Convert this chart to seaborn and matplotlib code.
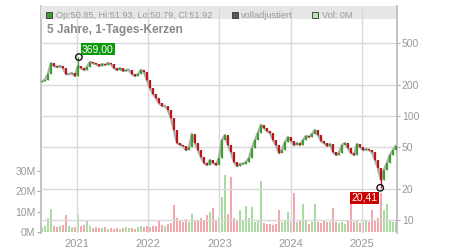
import numpy as np
import pandas as pd
import matplotlib
matplotlib.use("Agg")
import matplotlib.pyplot as plt
import matplotlib.ticker as mticker
from matplotlib.patches import Rectangle
import seaborn as sns

# ---------------- data ----------------
closes = [217, 222, 253, 323, 303, 296, 303, 289, 253, 253, 259, 242,
          303, 289, 277, 296, 331, 323, 316, 303, 316, 310, 323, 316,
          289, 277, 289, 271, 277, 277, 253, 242, 253, 277, 265, 222,
          186, 163, 149, 133, 125, 125, 114, 96, 73, 55, 53, 51.5,
          47, 50, 67, 55, 47, 40.4, 35.4, 33.8, 37.8, 35.4, 33.8, 39.5,
          58.8, 65.7, 52.6, 45.1, 36.1, 33.1, 34.6, 34.6, 36.1, 39.5, 49.2, 58.8,
          68.7, 82, 76.7, 71.8, 68.7, 58.8, 52.6, 44.1, 47.1, 56.2, 62.8, 57.5,
          52.6, 55, 52.6, 58.8, 64.2, 62.8, 67.2, 73.4, 65.7, 57.5, 55, 51.5,
          53.8, 45.1, 42.2, 44.1, 52.6, 55, 49.2, 44.1, 42.2, 53.8, 50.3, 47.1,
          48.1, 47.1, 45.1, 37.8, 31.6, 24.2, 30.3, 35.4, 42.2, 47.1, 51.92]
volumes_m = [2.5, 3, 7, 11.5, 3, 2.5, 3, 3.5, 8.5, 3, 2.5, 2.5,
             8.5, 3, 3.5, 6, 3, 2, 2.5, 2, 2, 2.5, 1.5, 2,
             1.5, 2, 1.5, 2, 2.5, 2, 2, 1.5, 2.5, 3, 2.5, 3,
             2.5, 3, 3, 6, 3.5, 3, 4, 4.5, 13.5, 7, 6, 5,
             6.5, 5, 9, 5.5, 6, 7, 6, 8.5, 10, 12, 6, 7,
             17, 28, 9, 27, 7, 6, 11, 6, 13, 7, 12.5, 5,
             6, 25, 4.5, 4, 4, 3.5, 4, 11, 5, 6, 10, 5,
             19, 5, 6, 14, 5.5, 4, 5, 14, 5, 4.5, 6, 5,
             5, 12, 5, 4.5, 5, 4, 6, 17, 5, 6, 4.5, 5,
             6, 5, 11, 6, 7, 19, 11, 14, 6, 5, 5]
first_open = 212.0
start_date, end_date = "2020-07-06", "2025-06-24"
view_start, view_end = "2020-07-01", "2025-06-29"
hi_date, hi_value, hi_label = "2021-01-11", 369.00, "369,00"
lo_date, lo_value, lo_label = "2025-04-04", 20.41, "20,41"
header_ohlc = "Op:50.85, Hi:51.93, Lo:50.79, Cl:51.92"
header_adj = "volladjustiert"
header_vol = "Vol: 0M"
title = "5 Jahre, 1-Tages-Kerzen"
price_ticks = [10, 20, 50, 100, 200, 500]
vol_ticks = [0, 10, 20, 30]
vol_labels = ["0M", "10M", "20M", "30M"]
year_ticks = ["2021-01-01", "2022-01-01", "2023-01-01", "2024-01-01", "2025-01-01"]
year_labels = ["2021", "2022", "2023", "2024", "2025"]

# ---------------- build frame ----------------
dates = pd.date_range(start_date, end_date, periods=len(closes))
df = pd.DataFrame({"date": dates, "close": closes, "volume": volumes_m})
df["open"] = [first_open] + closes[:-1]
df["up"] = df["close"] >= df["open"]
df["lo"] = df[["open", "close"]].min(axis=1)
df["hi"] = df[["open", "close"]].max(axis=1)
ih = (df["date"] - pd.Timestamp(hi_date)).abs().idxmin()
il = (df["date"] - pd.Timestamp(lo_date)).abs().idxmin()
df.loc[ih, "hi"] = hi_value
df.loc[il, "lo"] = lo_value

GREEN, RED = "#3aa22a", "#c01418"
VGREEN, VRED = "#a9dba2", "#f2a6ae"
GRID = "#d9d9d9"
TXT = "#999999"

sns.set_theme(style="white")
plt.rcParams["font.family"] = ["Liberation Sans", "DejaVu Sans"]

W, H = 450, 250
L, R, T, B = 41, 397, 6, 233
fig = plt.figure(figsize=(W / 100, H / 100), dpi=100)
axv = fig.add_axes([L / W, 1 - B / H, (R - L) / W, (B - T) / H])
axp = axv.twinx()

# ---------------- volume ----------------
bar_w = pd.Timedelta(days=13.5)
axv.bar(df["date"], df["volume"], width=bar_w,
        color=np.where(df["up"], VGREEN, VRED), linewidth=0, zorder=2)
axv.set_ylim(-0.5, 111.3)
axv.set_yticks(vol_ticks)
axv.set_yticklabels(vol_labels)
axv.set_xlim(pd.Timestamp(view_start), pd.Timestamp(view_end))
axv.set_xticks(pd.to_datetime(year_ticks))
axv.set_xticklabels(year_labels)
axv.tick_params(axis="y", which="both", left=True, right=False, length=3,
                width=0.8, color="#aaaaaa", labelsize=7.5, labelcolor=TXT, pad=1)
axv.tick_params(axis="x", length=0, labelsize=8, labelcolor=TXT, pad=4.5)
axv.set_xlabel("")
axv.set_ylabel("")

# ---------------- price ----------------
axp.set_yscale("log")
axp.set_ylim(7.50, 1144)
axp.set_xlim(pd.Timestamp(view_start), pd.Timestamp(view_end))

# header band and grid
axp.add_patch(Rectangle((0, 1 - 13 / (B - T)), 1, 13 / (B - T), transform=axp.transAxes,
                        facecolor="#e6e6e6", edgecolor="none", zorder=0.5))
for p in price_ticks:
    axp.axhline(p, color=GRID, lw=1, zorder=1)
for d in year_ticks:
    axp.axvline(pd.Timestamp(d), color=GRID, lw=1, zorder=1)

sns.lineplot(data=df, x="date", y="close", ax=axp, color="#aaaaaa", lw=1.8, zorder=2)

axp.vlines(df["date"], df["lo"], df["hi"], colors=np.where(df["up"], GREEN, RED),
           lw=0.9, zorder=3)
body_h = (df["close"] - df["open"]).where((df["close"] - df["open"]).abs() > 0.01, 0.5)
axp.bar(df["date"], body_h, bottom=df["open"], width=pd.Timedelta(days=12),
        color=np.where(df["up"], GREEN, RED), linewidth=0, zorder=4)

axp.set_yticks(price_ticks)
axp.set_yticklabels([str(p) for p in price_ticks])
axp.yaxis.set_minor_locator(mticker.NullLocator())
axp.tick_params(axis="y", which="both", right=True, left=False, direction="inout",
                length=5, width=0.8, color="#aaaaaa", labelsize=7.5, labelcolor=TXT, pad=1)
axp.set_ylabel("")
axp.set_xlabel("")

# extremes
sns.scatterplot(x=[pd.Timestamp(hi_date), pd.Timestamp(lo_date)], y=[hi_value, lo_value],
                ax=axp, s=22, facecolor="none", edgecolor="#111111", linewidth=1, zorder=6)
axp.annotate(hi_label, xy=(pd.Timestamp(hi_date), hi_value), xytext=(19, 8),
             textcoords="offset pixels", ha="center", va="center", color="white",
             fontsize=7.5, zorder=7,
             bbox=dict(boxstyle="square,pad=0.12", fc="#0c9a0c", ec="none"))
axp.annotate(lo_label, xy=(pd.Timestamp(lo_date), lo_value), xytext=(-16, -10),
             textcoords="offset pixels", ha="center", va="center", color="white",
             fontsize=7.5, zorder=7,
             bbox=dict(boxstyle="square,pad=0.12", fc="#cc0000", ec="none"))

# spines
for ax in (axv, axp):
    for s in ("top", "bottom"):
        ax.spines[s].set_visible(False)
    ax.spines["left"].set_color("#bbbbbb")
    ax.spines["right"].set_color("#bbbbbb")
axv.spines["right"].set_visible(False)
axp.spines["left"].set_visible(False)
axv.grid(False)
axp.grid(False)

# header items
def fx(x):
    return x / W

def fy(y):
    return 1 - y / H

for (x0, fc) in [(46, "#3c9c2c"), (232, "#5a5a5a"), (312, "#b8e2b2")]:
    fig.add_artist(Rectangle((fx(x0), fy(18)), 6 / W, 6 / H, transform=fig.transFigure,
                             facecolor=fc, edgecolor="#333333", lw=0.6))
fig.text(fx(56), fy(15), header_ohlc, fontsize=6.6, color=TXT, va="center", ha="left")
fig.text(fx(241), fy(15), header_adj, fontsize=6.6, color=TXT, va="center", ha="left")
fig.text(fx(322), fy(15), header_vol, fontsize=6.6, color=TXT, va="center", ha="left")
fig.text(fx(47), fy(30), title, fontsize=8.6, fontweight="bold", color="#8a8a8a",
         va="center", ha="left")

fig.savefig("out.png", dpi=100)
